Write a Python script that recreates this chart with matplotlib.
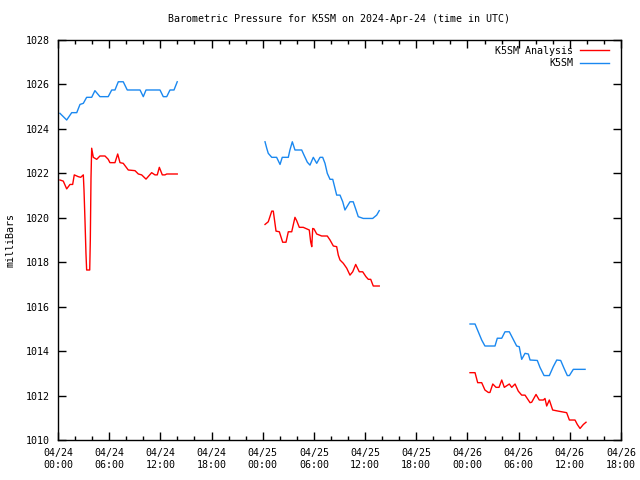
import numpy as np
import matplotlib
matplotlib.use("Agg")
import matplotlib.pyplot as plt
import matplotlib.dates as mdates

# hours since 2024-04-24 00:00 UTC, one list per day of data
t0 = np.datetime64("2024-04-24T00:00")

station_hours = [
    [0.23, 1.02, 1.61, 2.20, 2.58, 2.97, 3.36, 3.95, 4.33, 4.92, 5.89, 6.30, 6.68,
     7.07, 7.65, 8.12, 9.22, 9.62, 10.00, 10.32, 11.96, 12.34, 12.75, 13.13, 13.60, 13.98],
    [24.27, 24.47, 24.65, 25.06, 25.63, 26.03, 26.29, 27.00, 27.19, 27.47, 27.78, 28.57,
     28.84, 29.23, 29.54, 29.93, 30.33, 30.72, 31.03, 31.30, 31.57, 31.89, 32.21, 32.47,
     32.67, 33.06, 33.38, 33.64, 34.23, 34.61, 34.94, 35.20, 35.79, 36.89, 37.36, 37.66],
    [48.30, 48.89, 49.27, 49.67, 50.05, 51.23, 51.50, 52.02, 52.40, 52.91, 53.30, 53.77,
     54.07, 54.36, 54.75, 55.14, 55.34, 56.19, 56.50, 56.98, 57.60, 58.06, 58.47, 58.93,
     59.33, 59.71, 59.95, 60.41, 60.88, 61.79],
]
station_mb = [
    [1024.70, 1024.40, 1024.73, 1024.73, 1025.10, 1025.15, 1025.42, 1025.42, 1025.72,
     1025.45, 1025.45, 1025.75, 1025.75, 1026.12, 1026.12, 1025.75, 1025.75, 1025.75,
     1025.45, 1025.75, 1025.75, 1025.45, 1025.45, 1025.75, 1025.75, 1026.12],
    [1023.42, 1023.13, 1022.90, 1022.72, 1022.72, 1022.40, 1022.72, 1022.72, 1023.05,
     1023.42, 1023.05, 1023.05, 1022.82, 1022.50, 1022.37, 1022.72, 1022.45, 1022.72,
     1022.72, 1022.45, 1022.00, 1021.73, 1021.73, 1021.33, 1021.02, 1021.02, 1020.72,
     1020.35, 1020.72, 1020.72, 1020.35, 1020.05, 1019.97, 1019.97, 1020.12, 1020.32],
    [1015.22, 1015.22, 1014.87, 1014.50, 1014.23, 1014.23, 1014.58, 1014.58, 1014.87,
     1014.87, 1014.58, 1014.23, 1014.20, 1013.63, 1013.90, 1013.87, 1013.60, 1013.58,
     1013.27, 1012.90, 1012.90, 1013.30, 1013.60, 1013.58, 1013.22, 1012.90, 1012.90,
     1013.18, 1013.18, 1013.18],
]

analysis_hours = [
    [0.23, 0.62, 1.02, 1.41, 1.72, 1.91, 2.38, 2.66, 2.97, 3.05, 3.17, 3.28, 3.36, 3.72,
     3.79, 3.87, 3.95, 4.14, 4.54, 4.92, 5.51, 5.89, 6.09, 6.68, 7.00, 7.27, 7.65, 8.24,
     9.03, 9.42, 9.81, 10.32, 10.98, 11.37, 11.64, 11.88, 12.23, 12.54, 12.75, 13.98],
    [24.27, 24.65, 25.06, 25.24, 25.56, 25.95, 26.34, 26.73, 27.00, 27.40, 27.78, 27.98,
     28.29, 28.75, 29.46, 29.62, 29.75, 29.86, 30.01, 30.33, 30.91, 31.57, 31.89, 32.28,
     32.67, 32.86, 33.06, 33.45, 33.85, 34.23, 34.55, 34.90, 35.32, 35.72, 36.10, 36.38,
     36.66, 36.96, 37.66],
    [48.30, 48.89, 49.20, 49.67, 50.05, 50.45, 50.64, 50.97, 51.35, 51.70, 52.02, 52.32,
     52.91, 53.19, 53.58, 53.96, 54.36, 54.75, 55.34, 55.53, 56.04, 56.42, 56.90, 57.09,
     57.29, 57.60, 57.99, 58.65, 59.63, 59.95, 60.61, 60.88, 61.20, 61.59, 61.90],
]
analysis_mb = [
    [1021.70, 1021.65, 1021.30, 1021.50, 1021.50, 1021.93, 1021.85, 1021.82, 1021.93,
     1021.25, 1019.82, 1018.40, 1017.65, 1017.65, 1019.00, 1021.78, 1023.13, 1022.72,
     1022.63, 1022.78, 1022.78, 1022.63, 1022.48, 1022.48, 1022.87, 1022.48, 1022.45,
     1022.15, 1022.12, 1021.97, 1021.93, 1021.74, 1022.03, 1021.93, 1021.93, 1022.27,
     1021.93, 1021.93, 1021.97, 1021.97],
    [1019.70, 1019.82, 1020.30, 1020.30, 1019.40, 1019.37, 1018.90, 1018.90, 1019.37,
     1019.37, 1020.02, 1019.87, 1019.57, 1019.57, 1019.45, 1018.92, 1018.70, 1019.52,
     1019.50, 1019.27, 1019.18, 1019.18, 1019.00, 1018.73, 1018.70, 1018.32, 1018.10,
     1017.95, 1017.73, 1017.42, 1017.57, 1017.90, 1017.57, 1017.57, 1017.35, 1017.23,
     1017.23, 1016.93, 1016.93],
    [1013.03, 1013.03, 1012.58, 1012.58, 1012.25, 1012.14, 1012.14, 1012.52, 1012.37,
     1012.37, 1012.70, 1012.37, 1012.52, 1012.37, 1012.52, 1012.20, 1012.02, 1012.02,
     1011.68, 1011.70, 1012.05, 1011.80, 1011.80, 1011.87, 1011.53, 1011.80, 1011.35,
     1011.30, 1011.23, 1010.90, 1010.90, 1010.70, 1010.52, 1010.70, 1010.80],
]

y_ticks = list(range(1010, 1030, 2))


def to_times(hours):
    return t0 + (np.array(hours) * 3600).astype("timedelta64[s]")


plt.rcParams['font.family'] = ['DejaVu Sans Mono']
plt.rcParams['font.size'] = 7.2

fig = plt.figure(figsize=(6.4, 4.8), dpi=100)
ax = fig.add_axes([0.0906, 0.0833, 0.8797, 0.8334])

for i, (h, v) in enumerate(zip(analysis_hours, analysis_mb)):
    ax.plot(to_times(h), v, color='#ff0000', lw=1, label='K5SM Analysis' if i == 0 else None)
for i, (h, v) in enumerate(zip(station_hours, station_mb)):
    ax.plot(to_times(h), v, color='#1a88f0', lw=1, label='K5SM' if i == 0 else None)

ax.set_xlim(t0, t0 + np.timedelta64(66, 'h'))
ax.set_ylim(1010, 1028)
ax.set_yticks(y_ticks)
ax.xaxis.set_major_locator(mdates.HourLocator(byhour=range(0, 24, 6)))
ax.xaxis.set_minor_locator(mdates.HourLocator(byhour=range(0, 24, 2)))
ax.xaxis.set_major_formatter(mdates.DateFormatter('%m/%d\n%H:%M'))
ax.tick_params(which='both', direction='in', top=True, right=True)
ax.tick_params(which='major', length=6, width=1)
ax.tick_params(which='minor', length=3, width=1)
ax.tick_params(axis='x', pad=6)
ax.tick_params(axis='y', pad=6)
for s in ax.spines.values():
    s.set_linewidth(1)

ax.set_ylabel('milliBars')
ax.yaxis.set_label_coords(-0.075, 0.5)
ax.set_title('Barometric Pressure for K5SM on 2024-Apr-24 (time in UTC)',
             fontsize=7.2, pad=13)
ax.legend(loc='upper right', bbox_to_anchor=(0.986, 0.995), frameon=False,
          markerfirst=False, handlelength=2.9, handletextpad=0.7,
          borderaxespad=0, labelspacing=0.25)

fig.savefig('out.png', dpi=100)
